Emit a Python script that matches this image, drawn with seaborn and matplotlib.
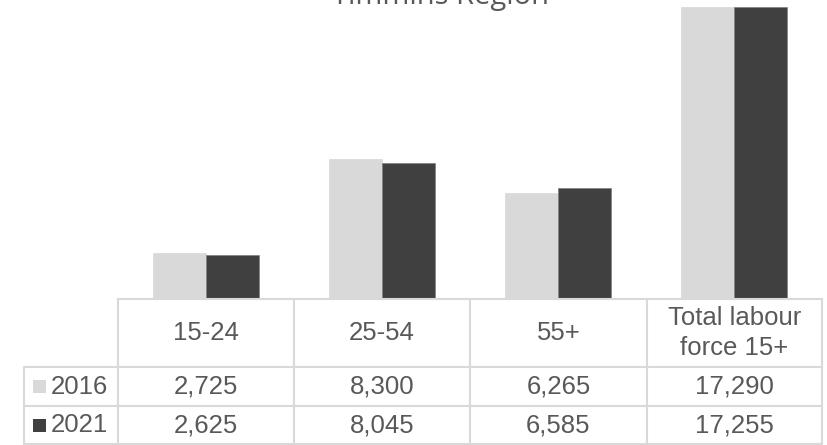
import matplotlib
matplotlib.use("Agg")
import matplotlib.pyplot as plt
import seaborn as sns
import pandas as pd
from matplotlib.lines import Line2D
from matplotlib.patches import Rectangle

# ---- data ----
categories = ["15-24", "25-54", "55+", "Total labour\nforce 15+"]
years = ["2016", "2021"]
values_2016 = [2725, 8300, 6265, 17290]
values_2021 = [2625, 8045, 6585, 17255]
title = "Timmins Region"

colors = {"2016": "#d9d9d9", "2021": "#404040"}
text_color = "#595959"
line_color = "#d9d9d9"

df = pd.DataFrame({
    "category": categories * 2,
    "year": [years[0]] * 4 + [years[1]] * 4,
    "value": values_2016 + values_2021,
})

sns.set_theme(style="white")
plt.rcParams["font.family"] = ["Liberation Sans", "DejaVu Sans"]

W, H = 828, 445
fig = plt.figure(figsize=(W / 100, H / 100), dpi=100)

def fx(x):
    return x / W

def fy(y):
    return 1 - y / H

# column edges (pixels)
col_edges = [118, 294, 470, 647, 822]
label_left = 24
y_base = 299
row_edges = [299, 367, 406, 444]

ax = fig.add_axes([fx(col_edges[0]), fy(y_base), fx(col_edges[-1]) - fx(col_edges[0]), 1 - fy(y_base)])
sns.barplot(data=df, x="category", y="value", hue="year", order=categories,
            hue_order=years, palette=colors, width=0.6, ax=ax, legend=False,
            saturation=1)
for i, p in enumerate(ax.patches):
    p.set_edgecolor("#7f7f7f" if p.get_facecolor()[0] < 0.5 else "#d9d9d9")
    p.set_linewidth(0.5)
ax.set_xlim(-0.5, len(categories) - 0.5)
ax.set_ylim(0, 299 / 0.0169)
ax.set_axis_off()

# title (mostly clipped at top, as in reference)
fig.text(fx(441), fy(4), title, ha="center", va="baseline", fontsize=21,
         color=text_color, family=["Open Sans", "DejaVu Sans"])

# table lines
lw = 1.5
def hline(y, x0, x1):
    fig.add_artist(Line2D([fx(x0), fx(x1)], [fy(y), fy(y)], color=line_color, lw=lw))

def vline(x, y0, y1):
    fig.add_artist(Line2D([fx(x), fx(x)], [fy(y0), fy(y1)], color=line_color, lw=lw))

hline(row_edges[0], col_edges[0], col_edges[-1])
for y in row_edges[1:]:
    hline(y, label_left, col_edges[-1])
for x in col_edges:
    vline(x, row_edges[0], row_edges[-1])
vline(label_left, row_edges[1], row_edges[-1])

fs = 18.5
# header
for i, cat in enumerate(categories):
    cx = (col_edges[i] + col_edges[i + 1]) / 2
    cy = (row_edges[0] + row_edges[1]) / 2
    fig.text(fx(cx), fy(cy), cat, ha="center", va="center", fontsize=fs,
             color=text_color, linespacing=1.3)

# data rows
for r, (yr, vals) in enumerate(zip(years, [values_2016, values_2021])):
    cy = (row_edges[r + 1] + row_edges[r + 2]) / 2
    fig.add_artist(Rectangle((fx(33), fy(cy + 6.5)), fx(13), 13 / H,
                             facecolor=colors[yr], edgecolor="none",
                             transform=fig.transFigure))
    fig.text(fx(51), fy(cy), yr, ha="left", va="center", fontsize=fs, color=text_color)
    for i, v in enumerate(vals):
        cx = (col_edges[i] + col_edges[i + 1]) / 2
        fig.text(fx(cx), fy(cy), f"{v:,}", ha="center", va="center",
                 fontsize=fs, color=text_color)

fig.savefig("out.png", dpi=100)
